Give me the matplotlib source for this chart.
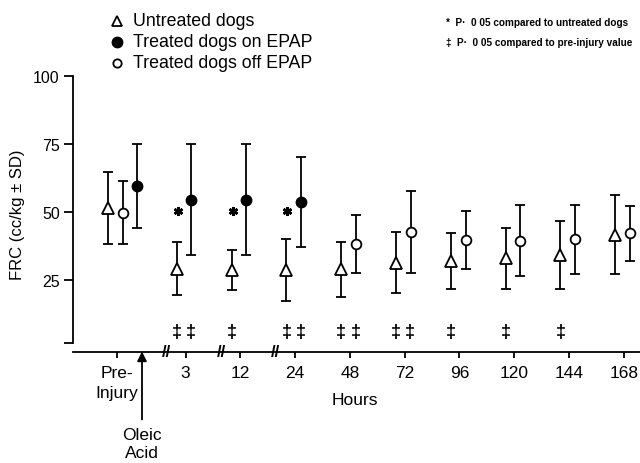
import numpy as np
import matplotlib
matplotlib.use('Agg')
import matplotlib.pyplot as plt

plt.rcParams['font.family'] = ['Liberation Sans', 'DejaVu Sans']

# Data (FRC, cc/kg, mean and SD)
hours = ['Pre-\nInjury', '3', '12', '24', '48', '72', '96', '120', '144', '168']
untreated_mean = [51.4, 29.2, 28.6, 28.7, 29.0, 31.4, 31.9, 32.9, 34.1, 41.7]
untreated_sd = [13.2, 9.9, 7.3, 11.5, 10.1, 11.2, 10.2, 11.1, 12.5, 14.5]
on_epap_hours = ['Pre-\nInjury', '3', '12', '24']
on_epap_mean = [59.6, 54.5, 54.5, 53.8]
on_epap_sd = [15.5, 20.5, 20.5, 16.6]
off_epap_hours = ['Pre-\nInjury', '48', '72', '96', '120', '144', '168']
off_epap_mean = [49.8, 38.3, 42.7, 39.7, 39.4, 39.9, 42.2]
off_epap_sd = [11.6, 10.6, 15.0, 10.5, 13.0, 12.8, 10.1]
# * P<0.05 vs untreated (on EPAP) ; double dagger P<0.05 vs pre-injury
star_hours = ['3', '12', '24']
dagger_untreated = ['3', '12', '24', '48', '72', '96', '120', '144']
dagger_treated = ['3', '24', '48', '72']

# x positions: bigger gap after pre-injury
pos = {h: (0 if i == 0 else i + 0.25) for i, h in enumerate(hours)}

fig = plt.figure(figsize=(6.4, 4.64), dpi=100)
ax = fig.add_axes([73 / 640, 1 - 352.5 / 464, 567 / 640, (352.5 - 77) / 464])
ax.set_xlim(-0.803, 9.544)
ax.set_ylim(-1.3, 100)

ekw = dict(ecolor='black', elinewidth=1.3, capsize=3.5, capthick=1.3,
           linestyle='none', clip_on=False)

x_un = [pos[h] - 0.16 for h in hours]
ax.errorbar(x_un, untreated_mean, yerr=untreated_sd, fmt='^', ms=8.5,
            mfc='white', mec='black', mew=1.3, **ekw)

x_on = [pos[h] + (0.37 if h == hours[0] else 0.1) for h in on_epap_hours]
ax.errorbar(x_on, on_epap_mean, yerr=on_epap_sd, fmt='o', ms=7.5,
            mfc='black', mec='black', **ekw)

x_off = [pos[h] + 0.11 for h in off_epap_hours]
ax.errorbar(x_off, off_epap_mean, yerr=off_epap_sd, fmt='o', ms=7,
            mfc='white', mec='black', mew=1.3, **ekw)

# significance marks
ax.plot([pos[h] - 0.14 for h in star_hours], [50.5] * len(star_hours),
        linestyle='none', marker=(6, 2, 0), ms=6.5, mew=1.8, color='black')
for h in dagger_untreated:
    ax.text(pos[h] - 0.16, 5.9, '\u2021', ha='center', va='center',
            fontsize=13, fontweight='bold')
for h in dagger_treated:
    ax.text(pos[h] + 0.1, 5.9, '\u2021', ha='center', va='center',
            fontsize=13, fontweight='bold')

# axes styling
for s in ['top', 'right']:
    ax.spines[s].set_visible(False)
ax.spines['left'].set_bounds(1.8, 100)
ax.spines['left'].set_linewidth(1.3)
ax.spines['bottom'].set_linewidth(1.3)
ax.set_yticks([1.8, 25, 50, 75, 100], ['', '25', '50', '75', '100'])
ax.tick_params(axis='y', direction='out', length=6.5, width=1.3, pad=3,
               labelsize=11.5)
ax.set_xticks([pos[h] for h in hours], hours)
ax.tick_params(axis='x', direction='out', length=4, width=1.3, pad=6,
               labelsize=12.5)
for lab in ax.get_xticklabels():
    lab.set_linespacing(1.35)

# axis breaks
for i in range(1, 4):
    ax.text(pos[hours[i]] - 0.35, -1.3, '//', ha='center', va='center',
            fontsize=12, fontweight='bold', clip_on=False)

# oleic acid arrow
ax.annotate('', xy=(0.456, -1.3), xytext=(0.456, -26.3),
            xycoords='data', textcoords='data', annotation_clip=False,
            arrowprops=dict(arrowstyle='-|>', color='black', lw=1.3,
                            mutation_scale=14, shrinkA=0, shrinkB=0))
fig.text(142 / 640, 1 - 445 / 464, 'Oleic\nAcid', ha='center', va='center',
         fontsize=12.5, linespacing=1.25)

fig.text(355 / 640, 1 - 401 / 464, 'Hours', ha='center', va='center',
         fontsize=12.5)
fig.text(18 / 640, 1 - 214.5 / 464, 'FRC (cc/kg \u00b1 SD)', rotation=90,
         ha='center', va='center', fontsize=12)

# legend drawn by hand
leg_labels = ['Untreated dogs', 'Treated dogs on EPAP', 'Treated dogs off EPAP']
leg_style = [dict(marker='^', ms=7, mfc='white', mew=1.3),
             dict(marker='o', ms=7.5, mfc='black', mew=1),
             dict(marker='o', ms=6, mfc='white', mew=1.3)]
for i, (lab, st) in enumerate(zip(leg_labels, leg_style)):
    base = 26 + 21 * i
    fig.text(133 / 640, 1 - base / 464, lab, ha='left', va='baseline',
             fontsize=12.8)
    fig.add_artist(plt.Line2D([117 / 640], [1 - (base - 4.5) / 464],
                              transform=fig.transFigure, color='black',
                              linestyle='none', mec='black', **st))

fig.text(446 / 640, 1 - 25.5 / 464, '*  P\u00b7  0 05 compared to untreated dogs',
         ha='left', va='baseline', fontsize=7.2, fontweight='bold')
fig.text(446 / 640, 1 - 46 / 464, '\u2021  P\u00b7  0 05 compared to pre-injury value',
         ha='left', va='baseline', fontsize=7.2, fontweight='bold')

fig.savefig('out.png', dpi=100)
